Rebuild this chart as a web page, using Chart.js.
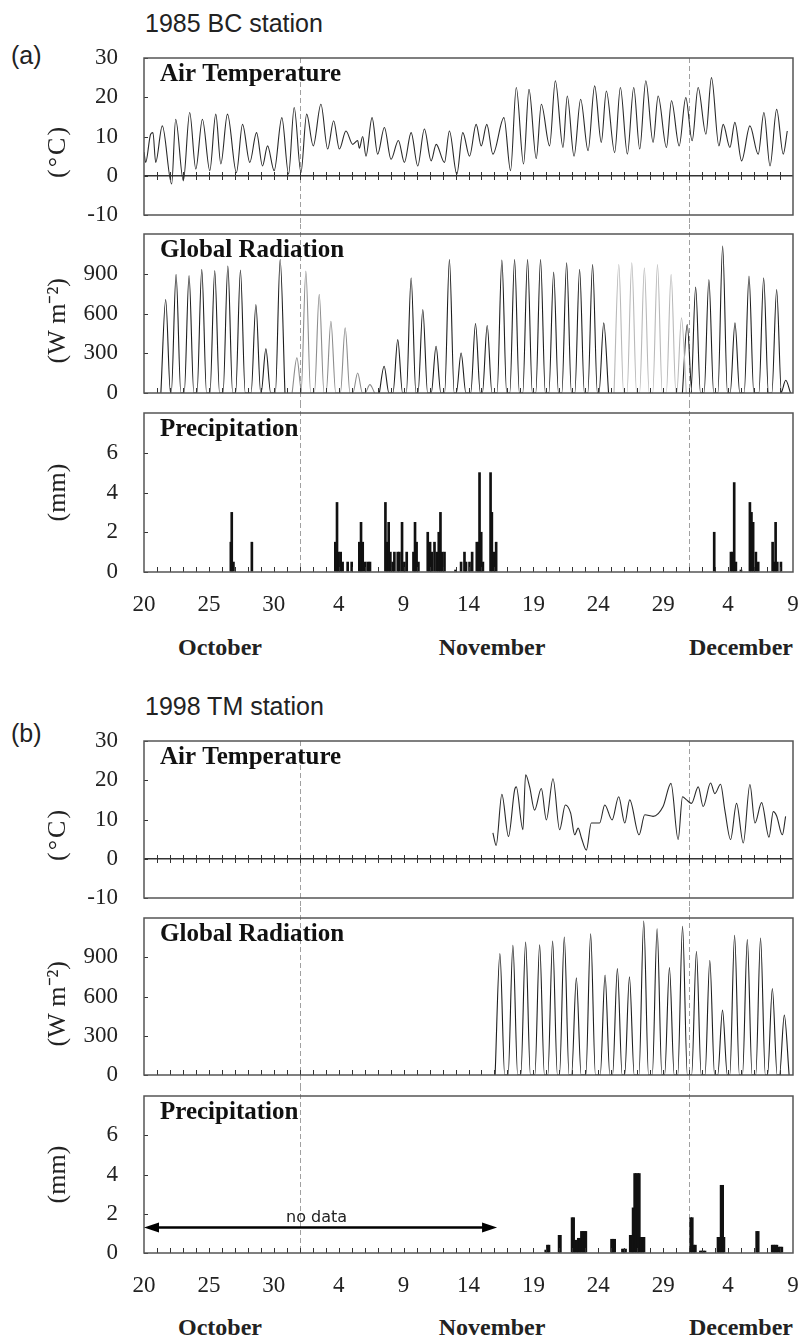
<!DOCTYPE html>
<html>
<head>
<meta charset="utf-8">
<script src="https://cdn.jsdelivr.net/npm/chart.js@4.4.0/dist/chart.umd.min.js"></script>
<style>
    body { margin: 0; background: #fff; }
    #page { position: relative; width: 800px; height: 1338px; overflow: hidden; }
    #page canvas { position: absolute; left: 0; }
    .lbl { position: absolute; white-space: nowrap; line-height: 1; color: #222; }
    .stn { font-family: 'Liberation Sans', Arial, sans-serif; font-size: 25px; }
    .mon { font-family: 'Liberation Serif', 'Times New Roman', serif; font-weight: bold; font-size: 24px; transform: translateX(-50%); }
</style>
</head>
<body>
<div id="page">
    <div class="lbl stn" style="left:145px; top:11px;">1985 BC station</div>
    <div class="lbl stn" style="left:11px; top:43px;">(a)</div>
    <div class="lbl mon" style="left:220px; top:635px;">October</div>
    <div class="lbl mon" style="left:492px; top:635px;">November</div>
    <div class="lbl mon" style="left:741px; top:635px;">December</div>

    <div class="lbl stn" style="left:145px; top:694px;">1998 TM station</div>
    <div class="lbl stn" style="left:11px; top:721px;">(b)</div>
    <div class="lbl mon" style="left:220px; top:1315px;">October</div>
    <div class="lbl mon" style="left:492px; top:1315px;">November</div>
    <div class="lbl mon" style="left:741px; top:1315px;">December</div>

    <canvas id="bcTemp" width="800" height="224" style="top:0px"></canvas>
    <canvas id="bcRad" width="800" height="179" style="top:224px"></canvas>
    <canvas id="bcRain" width="800" height="237" style="top:403px"></canvas>
    <canvas id="tmTemp" width="800" height="267" style="top:640px"></canvas>
    <canvas id="tmRad" width="800" height="179" style="top:907px"></canvas>
    <canvas id="tmRain" width="800" height="252" style="top:1086px"></canvas>
</div>
<script>
// time axis: days after 20 October (0 = Oct 20, 50 = Dec 9)
const xTickLabels = ['20', '25', '30', '4', '9', '14', '19', '24', '29', '4', '9'];
const monthStarts = [12, 42];          // 1 Nov, 1 Dec
const tempTicks = [-10, 0, 10, 20, 30];
const radTicks = [0, 300, 600, 900];
const rainTicks = [0, 2, 4, 6];

// ---- 1985 BC station ----
const bcTempDays = [0, 0.13, 0.51, 0.69, 0.9, 1.41, 2.13, 2.44, 3.03, 3.52, 3.99, 4.5, 5.07, 5.53, 5.92, 6.43, 7.12, 7.59,
    8.15, 8.67, 9.13, 9.52, 10.03, 10.62, 11.14, 11.57, 12.09, 12.53, 13.04, 13.63, 14.15, 14.61, 15.05, 15.56, 16.08,
    16.46, 16.59, 16.85, 17.1, 17.57, 18, 18.52, 19.03, 19.6, 20.06, 20.58, 21.09, 21.6, 22.12, 22.51, 23.15, 23.53,
    24.1, 24.56, 25.08, 25.59, 25.98, 26.41, 26.88, 27.73, 28.24, 28.68, 29.24, 29.66, 30.22, 30.61, 31.25, 31.69,
    32.28, 32.61, 33.13, 33.64, 34.21, 34.72, 35.23, 35.62, 36.26, 36.7, 37.24, 37.73, 38.19, 38.66, 39.22, 39.61,
    40.25, 40.64, 41.23, 41.74, 42.23, 42.69, 43.29, 43.72, 44.29, 44.62, 45.14, 45.52, 46.04, 46.68, 47.32, 47.76,
    48.23, 48.74, 49.25, 49.56];
const bcTempC = [6, 3.4, 10.6, 11, 3.4, 12.7, -2.1, 14.4, -1.3, 16.1, 1.7, 14.4, 1.3, 15.7, 3, 15.7, 0.8, 13.1,
    3.4, 11, 2.5, 7.6, 1.3, 14.8, 0.4, 17.4, 0.8, 15.7, 7.6, 18.2, 6.8, 14, 6.8, 11.4, 8,
    9, 7, 10, 5, 14.8, 5.5, 12.3, 4.2, 9, 3.4, 11, 2.5, 11.9, 3.8, 8, 3.4, 11.4,
    0.4, 11, 5, 13.1, 7.6, 13.1, 5.5, 14.8, 1.3, 22.5, 3, 22, 4.4, 18.2, 7.6, 24.2,
    7.2, 20.3, 5, 19.5, 6.4, 22.9, 8.5, 21.6, 5.9, 22.5, 5.5, 22.5, 6.8, 24.2, 8.5, 20.3,
    7.2, 19.1, 7.6, 19.9, 8.9, 22.5, 10.6, 25, 7.6, 13.1, 7.2, 13.6, 3.8, 12.7, 5.5, 16.1,
    2.5, 16.9, 5.5, 11.4];

// daily radiation peaks (noon); tone 0 = measured, 1 and 2 = filled-in days
const bcRadDays = [1.67, 2.47, 3.47, 4.45, 5.45, 6.46, 7.43, 8.62, 9.39, 10.49,
    11.78, 12.47, 13.5, 14.4, 15.5, 16.46, 17.4,
    18.5, 19.55, 20.58, 21.48, 22.5, 23.53, 24.43, 25.54, 26.44, 27.57, 28.55, 29.55, 30.55, 31.56, 32.56, 33.56, 34.56, 35.42,
    36.58, 37.58, 38.55, 39.56, 40.61, 41.41,
    41.85, 42.5, 43.52, 44.58, 45.53, 46.61, 47.74, 48.74, 49.44];
const bcRadPeaks = [706, 895, 887, 933, 925, 958, 928, 668, 333, 1008,
    265, 920, 744, 542, 492, 151, 63,
    202, 403, 870, 630, 353, 1008, 302, 524, 509, 1003, 1008, 1008, 1008, 912, 983, 933, 970, 529,
    970, 983, 945, 970, 895, 567,
    517, 799, 857, 1109, 529, 882, 870, 781, 96];
const bcRadTone = [0, 0, 0, 0, 0, 0, 0, 0, 0, 0,
    1, 1, 1, 1, 1, 1, 1,
    0, 0, 0, 0, 0, 0, 0, 0, 0, 0, 0, 0, 0, 0, 0, 0, 0, 0,
    2, 2, 2, 2, 2, 2,
    0, 0, 0, 0, 0, 0, 0, 0, 0];

const bcRainDays = [6.69, 6.76, 6.89, 8.31, 14.74, 14.87, 14.99, 15.15, 15.3, 15.69, 16, 16.59, 16.72, 16.85, 17.05,
    17.26, 17.41, 18.6, 18.72, 18.85, 18.98, 19.16, 19.29, 19.55, 19.68, 19.88, 20.06, 20.24, 20.76, 20.88, 21,
    21.14, 21.86, 22.04, 22.17, 22.38, 22.56, 22.71, 22.84, 22.97, 23.15, 24, 24.43, 24.69, 24.81, 25.08, 25.28,
    25.64, 25.77, 25.85, 25.98, 26.11, 26.7, 26.8, 26.96, 27.13, 43.93, 45.22, 45.35, 45.47, 45.6, 45.99, 46.68,
    46.8, 46.93, 47.14, 47.32, 48.43, 48.56, 48.66, 48.79, 49.07];
const bcRainMm = [1.5, 3, 0.5, 1.5, 1.5, 3.5, 1, 1, 0.5, 0.5, 0.5, 1.5, 2.5, 1.5, 0.5,
    0.5, 0.5, 3.5, 1.5, 2.5, 1, 0.5, 1, 1, 1, 2.5, 0.5, 1, 1, 2.5, 1.5,
    0.5, 2, 1.5, 1, 1.5, 1, 2, 3, 1, 1, 0.1, 0.5, 1, 0.5, 0.5, 1,
    1.5, 1.5, 5, 2, 0.5, 5, 3, 1, 1.5, 2, 1, 1, 4.5, 0.5, 0.1, 3.5,
    3, 2.5, 1, 0.5, 1.5, 0.5, 2.5, 0.5, 0.5];

// ---- 1998 TM station ----
const tmTempDays = [26.88, 27.13, 27.57, 28.08, 28.55, 28.68, 29.19, 29.4, 29.71, 30.09, 30.61, 31, 31.51, 32.02,
    32.46, 32.87, 33.18, 33.45, 33.7, 34.08, 34.46, 35.1, 35.5, 36.06, 36.57, 37.04, 37.42, 38.14, 38.58, 39.22,
    39.99, 40.6, 41.15, 41.49, 41.8, 42.18, 42.7, 43.08, 43.65, 43.98, 44.42, 44.75, 45.19, 45.65, 46.17, 46.68,
    47.07, 47.58, 48.15, 48.48, 48.74, 49.18, 49.43];
const tmTempC = [6.6, 3.4, 16.4, 5.7, 17.5, 18.3, 7.4, 21.4, 18.3, 12.4, 17.9, 9.9, 20.4, 7.4,
    13.7, 11.6, 6.1, 7.8, 5.3, 2.2, 9.1, 9.1, 13.7, 9.9, 15.8, 9.1, 15, 6.1, 11.2, 10.8,
    13.3, 19.2, 4.9, 15.8, 15, 14.1, 18.3, 13.3, 19.3, 16.6, 19, 12.4, 4.9, 14.1, 4, 18.9,
    9.1, 14.3, 5.5, 12, 10.9, 6.1, 10.8];

const tmRadDays = [27.42, 28.42, 29.4, 30.48, 31.48, 32.38, 33.31, 34.41, 35.52, 36.47, 37.4, 38.5, 39.53,
    40.48, 41.49, 42.56, 43.59, 44.57, 45.5, 46.48, 47.5, 48.41, 49.33];
const tmRadPeaks = [928, 991, 1017, 996, 1024, 1055, 742, 1080, 763, 813, 750, 1177, 1118,
    821, 1136, 946, 877, 496, 1068, 1035, 1047, 661, 458];

const tmRainDays = [30.95, 31.08, 31.2, 31.98, 32.08, 32.98, 33.1, 33.22, 33.34, 33.46, 33.58, 33.7, 33.82, 33.94,
    34.04, 36.02, 36.14, 36.26, 36.86, 36.98, 37.1, 37.46, 37.58, 37.68, 37.8, 37.92, 38.04, 38.16, 38.28, 38.4,
    38.52, 42.12, 42.24, 42.36, 42.48, 42.86, 42.98, 43.1, 43.22, 44.22, 44.34, 44.46, 44.58, 44.68, 47.2, 47.32,
    48.4, 48.52, 48.64, 48.76, 48.9, 49.02, 49.14];
const tmRainMm = [0.15, 0.4, 0.4, 0.9, 0.9, 1.8, 1.8, 0.65, 0.65, 0.75, 0.75, 1.1, 1.1, 1.1,
    1.1, 0.7, 0.7, 0.7, 0.2, 0.2, 0.2, 0.9, 0.9, 2.3, 4.05, 4.05, 4.05, 4.05, 0.8, 0.8,
    0.8, 1.8, 1.8, 0.4, 0.4, 0.1, 0.1, 0.1, 0.1, 0.8, 0.8, 3.45, 3.45, 0.8, 1.1, 1.1,
    0.4, 0.4, 0.4, 0.4, 0.3, 0.3, 0.3];

// "no data" span for TM precipitation
const noDataFrom = 0;
const noDataTo = 27.2;
const noDataLevel = 1.3;

const serif = "'Liberation Serif', 'Times New Roman', serif";
Chart.defaults.font.family = serif;
Chart.defaults.color = '#222';

function toPoints(days, vals) {
    return days.map(function(d, i) { return { x: d, y: vals[i] }; });
}

// each day's radiation curve: zero at dawn, peak at noon, zero at dusk
function radPoints(days, peaks) {
    const pts = [];
    days.forEach(function(d, i) {
        if (i > 0 && d - days[i - 1] > 1.6) pts.push({ x: d - 0.7, y: null });
        pts.push({ x: d - 0.37, y: 0 }, { x: d, y: peaks[i] }, { x: d + 0.37, y: 0 });
    });
    return pts;
}

function pick(arr, tone, want) {
    return arr.filter(function(v, i) { return tone[i] === want; });
}

function lineSet(points, color) {
    return {
        type: 'line',
        data: points,
        borderColor: color,
        borderWidth: 1.1,
        pointRadius: 0,
        cubicInterpolationMode: 'monotone',
        spanGaps: false
    };
}

function barSet(days, mm) {
    return {
        type: 'bar',
        data: toPoints(days, mm),
        backgroundColor: '#111',
        borderWidth: 0,
        barThickness: 2
    };
}

// frame, day ticks, month dividers, unit and panel name
const panelFrame = {
    id: 'panelFrame',
    beforeDatasetsDraw(chart, args, opts) {
        const { ctx, chartArea: a, scales: { x } } = chart;
        ctx.save();
        ctx.strokeStyle = '#a0a0a0';
        ctx.lineWidth = 1;
        ctx.setLineDash([5, 3]);
        monthStarts.forEach(function(d) {
            const px = Math.round(x.getPixelForValue(d)) + 0.5;
            ctx.beginPath();
            ctx.moveTo(px, opts.dashTop ? a.top : 0);
            ctx.lineTo(px, opts.dashBottom ? a.bottom : chart.height);
            ctx.stroke();
        });
        ctx.restore();
    },
    afterDatasetsDraw(chart, args, opts) {
        const { ctx, chartArea: a, scales: { x, y } } = chart;
        ctx.save();
        ctx.strokeStyle = '#333';
        ctx.lineWidth = 1;
        const base = opts.zeroAxis ? Math.round(y.getPixelForValue(0)) : a.bottom;
        for (let d = 1; d < 50; d++) {
            const px = Math.round(x.getPixelForValue(d)) + 0.5;
            ctx.beginPath();
            if (opts.zeroAxis) {
                ctx.moveTo(px, base - 4);
                ctx.lineTo(px, base + 4);
            } else {
                ctx.moveTo(px, base);
                ctx.lineTo(px, base - 5);
            }
            ctx.stroke();
        }
        y.ticks.forEach(function(t) {
            const py = Math.round(y.getPixelForValue(t.value)) + 0.5;
            ctx.beginPath();
            ctx.moveTo(a.left, py);
            ctx.lineTo(a.left + 4, py);
            ctx.stroke();
        });

        ctx.strokeStyle = '#555';
        ctx.lineWidth = 1.5;
        ctx.strokeRect(a.left, a.top, a.right - a.left, a.bottom - a.top);

        ctx.fillStyle = '#111';
        ctx.font = 'bold 25px ' + serif;
        ctx.textBaseline = 'alphabetic';
        ctx.fillText(opts.name, a.left + 16, a.top + 23);

        // rotated unit label beside the axis
        ctx.save();
        ctx.translate(58, y.getPixelForValue(opts.unitAt));
        ctx.rotate(-Math.PI / 2);
        ctx.font = '26px ' + serif;
        ctx.fillStyle = '#222';
        ctx.textAlign = 'center';
        ctx.textBaseline = 'middle';
        if ('letterSpacing' in ctx) ctx.letterSpacing = opts.unitSpacing + 'px';
        ctx.fillText(opts.unit, 0, 0);
        ctx.restore();

        if (opts.noData) {
            const x0 = x.getPixelForValue(noDataFrom);
            const x1 = x.getPixelForValue(noDataTo);
            const py = y.getPixelForValue(noDataLevel);
            ctx.strokeStyle = '#000';
            ctx.fillStyle = '#000';
            ctx.lineWidth = 2.5;
            ctx.beginPath();
            ctx.moveTo(x0 + 10, py);
            ctx.lineTo(x1 - 10, py);
            ctx.stroke();
            [[x0, 1], [x1, -1]].forEach(function(h) {
                ctx.beginPath();
                ctx.moveTo(h[0], py);
                ctx.lineTo(h[0] + h[1] * 15, py - 5);
                ctx.lineTo(h[0] + h[1] * 15, py + 5);
                ctx.closePath();
                ctx.fill();
            });
            ctx.fillStyle = '#222';
            ctx.font = "16px 'DejaVu Sans', sans-serif";
            ctx.textAlign = 'center';
            ctx.fillText('no data', (x0 + x1) / 2 - 4, py - 5);
        }
        ctx.restore();
    }
};

function makePanel(id, datasets, p) {
    const yTicks = p.yTicks;
    return new Chart(document.getElementById(id), {
        type: 'line',
        data: { datasets: datasets },
        options: {
            responsive: false,
            animation: false,
            events: [],
            layout: { padding: { top: p.padTop, bottom: p.padBottom || 0, left: 0, right: 7 } },
            plugins: {
                legend: { display: false },
                tooltip: { enabled: false },
                panelFrame: p.frame
            },
            scales: {
                x: {
                    type: 'linear',
                    min: 0,
                    max: 50,
                    offset: false,
                    display: !!p.showX,
                    grid: { display: false, drawTicks: false },
                    border: { display: false },
                    afterFit: function(s) {
                        s.height = p.xHeight || 0;
                        s.paddingLeft = 0;
                        s.paddingRight = 0;
                    },
                    ticks: {
                        stepSize: 5,
                        autoSkip: false,
                        maxRotation: 0,
                        padding: 19,
                        font: { size: 23 },
                        callback: function(v) { return xTickLabels[Math.round(v / 5)]; }
                    }
                },
                y: {
                    min: p.yMin,
                    max: p.yMax,
                    afterBuildTicks: function(s) {
                        s.ticks = yTicks.map(function(v) { return { value: v }; });
                    },
                    afterFit: function(s) {
                        s.width = 144;
                        s.paddingTop = 0;
                        s.paddingBottom = 0;
                    },
                    border: { display: false },
                    grid: {
                        drawTicks: false,
                        lineWidth: 1.5,
                        color: function(c) {
                            return p.zeroLine && c.tick && c.tick.value === 0 ? '#333' : 'rgba(0,0,0,0)';
                        }
                    },
                    ticks: { padding: 26, font: { size: 23 } }
                }
            }
        },
        plugins: [panelFrame]
    });
}

// 1985 BC station
makePanel('bcTemp', [lineSet(toPoints(bcTempDays, bcTempC), '#2a2a2a')], {
    padTop: 58, padBottom: 9, yMin: -10, yMax: 30, yTicks: tempTicks, zeroLine: true,
    frame: { name: 'Air Temperature', unit: '(°C)', unitAt: 6.2, unitSpacing: 2, zeroAxis: true, dashTop: true }
});

const radColors = ['#1e1e1e', '#8c8c8c', '#b8b8b8'];
makePanel('bcRad', [2, 1, 0].map(function(t) {
    return lineSet(radPoints(pick(bcRadDays, bcRadTone, t), pick(bcRadPeaks, bcRadTone, t)), radColors[t]);
}), {
    padTop: 10, padBottom: 10, yMin: 0, yMax: 1200, yTicks: radTicks,
    frame: { name: 'Global Radiation', unit: '(W m⁻²)', unitAt: 545, unitSpacing: 0 }
});

makePanel('bcRain', [barSet(bcRainDays, bcRainMm)], {
    padTop: 10, showX: true, xHeight: 68, yMin: 0, yMax: 8, yTicks: rainTicks,
    frame: { name: 'Precipitation', unit: '(mm)', unitAt: 4, unitSpacing: 0, dashBottom: true }
});

// 1998 TM station
makePanel('tmTemp', [lineSet(toPoints(tmTempDays, tmTempC), '#2a2a2a')], {
    padTop: 101, padBottom: 9, yMin: -10, yMax: 30, yTicks: tempTicks, zeroLine: true,
    frame: { name: 'Air Temperature', unit: '(°C)', unitAt: 6.2, unitSpacing: 2, zeroAxis: true, dashTop: true }
});

makePanel('tmRad', [lineSet(radPoints(tmRadDays, tmRadPeaks), '#1e1e1e')], {
    padTop: 11, padBottom: 11, yMin: 0, yMax: 1200, yTicks: radTicks,
    frame: { name: 'Global Radiation', unit: '(W m⁻²)', unitAt: 545, unitSpacing: 0 }
});

makePanel('tmRain', [barSet(tmRainDays, tmRainMm)], {
    padTop: 10, showX: true, xHeight: 85, yMin: 0, yMax: 8, yTicks: rainTicks,
    frame: { name: 'Precipitation', unit: '(mm)', unitAt: 4, unitSpacing: 0, dashBottom: true, noData: true }
});
</script>
</body>
</html>
